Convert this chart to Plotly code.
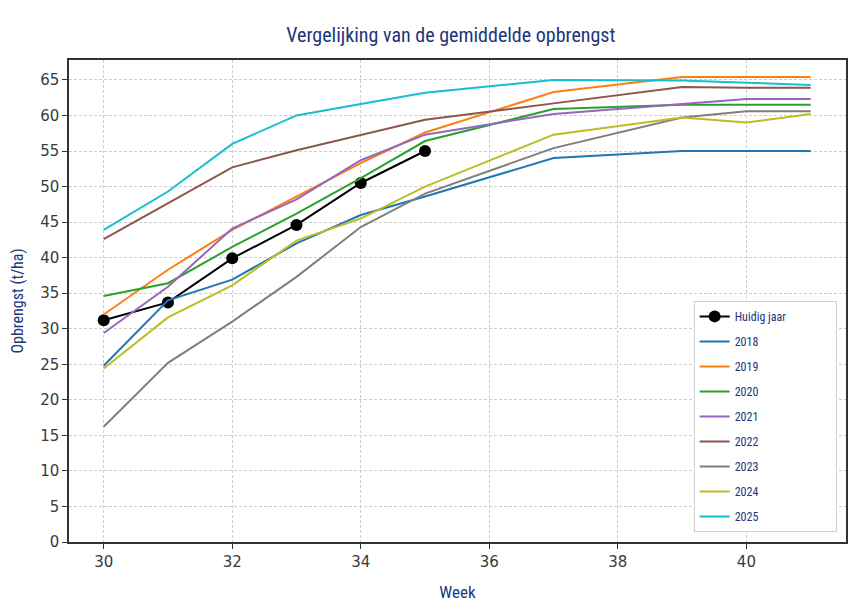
import plotly.graph_objects as go

# weeks with data
weeks_now = [30, 31, 32, 33, 34, 35]
weeks_hist = [30, 31, 32, 33, 34, 35, 37, 39, 40, 41]

huidig = [31.2, 33.7, 39.9, 44.6, 50.5, 55.0]

y2018 = [24.8, 34.0, 36.9, 42.0, 46.0, 48.6, 54.0, 55.0, 55.0, 55.0]
y2019 = [32.0, 38.3, 43.9, 48.6, 53.3, 57.6, 63.3, 65.4, 65.4, 65.4]
y2020 = [34.6, 36.4, 41.5, 46.2, 51.2, 56.4, 60.9, 61.5, 61.5, 61.5]
y2021 = [29.4, 35.9, 44.1, 48.2, 53.7, 57.3, 60.2, 61.6, 62.3, 62.3]
y2022 = [42.6, 47.6, 52.7, 55.1, 57.3, 59.4, 61.7, 64.0, 63.9, 63.9]
y2023 = [16.2, 25.2, 31.0, 37.3, 44.3, 49.0, 55.4, 59.7, 60.6, 60.6]
y2024 = [24.4, 31.6, 36.1, 42.4, 45.5, 50.0, 57.3, 59.7, 59.0, 60.2]
y2025 = [43.9, 49.3, 56.0, 60.0, 61.6, 63.2, 65.0, 64.9, 64.6, 64.3]

years = ['2018', '2019', '2020', '2021', '2022', '2023', '2024', '2025']
series = [y2018, y2019, y2020, y2021, y2022, y2023, y2024, y2025]
colors = ['#1f77b4', '#ff7f0e', '#2ca02c', '#9467bd',
          '#8c564b', '#7f7f7f', '#bcbd22', '#17becf']

navy = '#22357a'
cond = 'Roboto Condensed'
pad = '\u00a0' * 16  # widens the legend box a bit

fig = go.Figure()
fig.add_trace(go.Scatter(
    x=weeks_now, y=huidig, name='Huidig jaar' + pad, mode='lines+markers',
    line=dict(color='black', width=2), marker=dict(size=12, color='black'),
    legendgroup='now'
))
for yr, vals, c in zip(years, series, colors):
    fig.add_trace(go.Scatter(
        x=weeks_hist, y=vals, name=yr, mode='lines',
        line=dict(color=c, width=2), legendgroup=yr
    ))

# page body has an 8px margin, so the figure is a bit smaller than the window
fig.update_layout(
    width=850, height=598,
    margin=dict(l=61, r=12, t=52, b=64),
    plot_bgcolor='white', paper_bgcolor='white',
    title=dict(text='Vergelijking van de gemiddelde opbrengst', x=0.521, xanchor='center',
               y=0.955, yanchor='middle', font=dict(family=cond, size=20, color=navy)),
    legend=dict(x=0.988, y=0.021, xanchor='right', yanchor='bottom',
                bgcolor='white', bordercolor='#d0d0d0', borderwidth=1,
                font=dict(family=cond, size=12, color=navy), tracegroupgap=6),
    showlegend=True,
)
axis_common = dict(
    showline=True, linecolor='#333333', linewidth=1.5, mirror=True,
    ticks='outside', ticklen=5, tickcolor='#333333', automargin=False,
    showgrid=True, gridcolor='#cdcdcd', griddash='3px,2px', gridwidth=1,
    zeroline=False, tickfont=dict(family='DejaVu Sans', size=15, color='#3a3a3a'),
)
fig.update_xaxes(range=[29.46, 41.55], tick0=30, dtick=2,
                 title=dict(text='Week', font=dict(family=cond, size=17, color=navy), standoff=16),
                 **axis_common)
fig.update_yaxes(range=[0, 67.8], tick0=0, dtick=5,
                 title=dict(text='Opbrengst (t/ha)', font=dict(family=cond, size=16, color=navy), standoff=18),
                 **axis_common)

fig.write_html('out.html')
